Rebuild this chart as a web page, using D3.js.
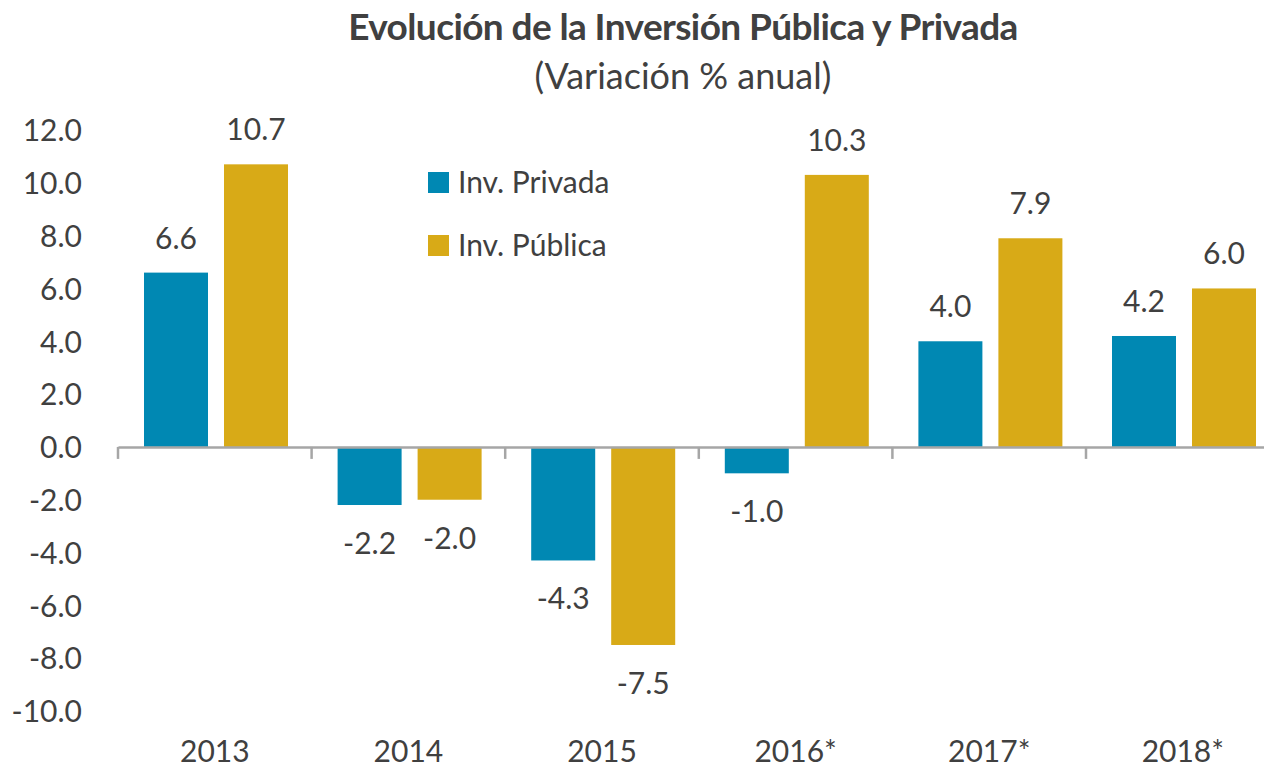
<!DOCTYPE html>
<html><head><meta charset="utf-8">
<script src="https://cdn.jsdelivr.net/npm/d3@7"></script>
<style>
body{margin:0;background:#fff;}
svg{display:block;font-family:Lato,"Open Sans",sans-serif;}
</style></head>
<body><svg id="c" width="1264" height="769"></svg>
<script>
const categories = ["2013","2014","2015","2016*","2017*","2018*"];
const privada = [6.6,-2.2,-4.3,-1.0,4.0,4.2];
const publica = [10.7,-2.0,-7.5,10.3,7.9,6.0];
const seriesNames = ["Inv. Privada","Inv. Pública"];
const colors = ["#0088B3","#D8AA17"];
const yTicks = [12,10,8,6,4,2,0,-2,-4,-6,-8,-10];

const fmt = d => d3.format(".1f")(d).replace("\u2212","-");
const svg = d3.select("#c");
const txt = "#404040";
const fs = 30;
const y = d3.scaleLinear().domain([-10,12]).range([711,130]);
const x = d3.scaleBand().domain(categories).range([118,1279.6]);
const inner = d3.scaleBand().domain([0,1]).range([26,170]).paddingInner(0.2);

svg.append("text").attr("x",683).attr("y",40).attr("text-anchor","middle")
  .attr("font-size",37).attr("font-weight","bold").attr("fill",txt)
  .attr("letter-spacing","-0.6").text("Evolución de la Inversión Pública y Privada");
svg.append("text").attr("x",683).attr("y",89).attr("text-anchor","middle")
  .attr("font-size",36).attr("fill",txt).text("(Variación % anual)");

// y labels
const yAxis = d3.axisLeft(y).tickValues(yTicks).tickSize(0).tickFormat(fmt);
const ga = svg.append("g").attr("transform","translate(85,0)").call(yAxis);
ga.select(".domain").remove();
ga.selectAll("text").attr("font-size",fs).attr("fill",txt).attr("font-family","Lato,sans-serif").attr("dy","0.36em");

const data = [privada, publica];
data.forEach((vals,si)=>{
  const g = svg.append("g");
  g.selectAll("rect").data(vals).join("rect")
    .attr("x",(d,i)=>x(categories[i])+inner(si))
    .attr("width",inner.bandwidth())
    .attr("y",d=>y(Math.max(0,d)))
    .attr("height",d=>Math.abs(y(d)-y(0)))
    .attr("fill",colors[si]);
  g.selectAll("text").data(vals).join("text")
    .attr("x",(d,i)=>x(categories[i])+inner(si)+inner.bandwidth()/2)
    .attr("y",d=> d>=0 ? y(d)-24 : y(d)+49)
    .attr("text-anchor","middle").attr("font-size",fs).attr("fill",txt)
    .text(fmt);
});

// x axis
const xAxis = d3.axisBottom(x).tickSize(0).tickFormat(d=>d);
const gx = svg.append("g").attr("transform",`translate(0,${y(0)})`).call(xAxis);
gx.select(".domain").attr("stroke","#a6a6a6").attr("stroke-width",2.5);
gx.selectAll("text").attr("font-size",fs).attr("fill",txt).attr("font-family","Lato,sans-serif")
  .attr("dy",0).attr("y",762-y(0));
const bounds = categories.map(c=>x(c));
gx.selectAll("line.sep").data(bounds).join("line").attr("class","sep")
  .attr("x1",d=>d).attr("x2",d=>d).attr("y1",0).attr("y2",12)
  .attr("stroke","#a6a6a6").attr("stroke-width",2.5);

// legend
const lg = svg.append("g");
seriesNames.forEach((n,i)=>{
  lg.append("rect").attr("x",428).attr("y",172+i*63).attr("width",21).attr("height",21).attr("fill",colors[i]);
  lg.append("text").attr("x",458).attr("y",193+i*63).attr("font-size",fs).attr("fill",txt).text(n);
});
</script></body></html>
